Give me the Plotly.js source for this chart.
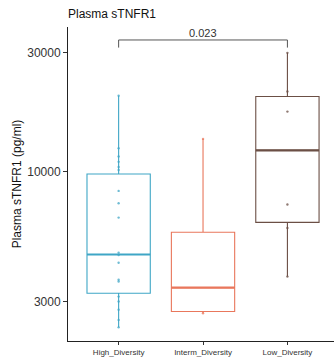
<!DOCTYPE html>
<html><head><meta charset="utf-8">
<script src="https://cdn.plot.ly/plotly-3.0.1.min.js"></script>
<style>html,body{margin:0;padding:0;overflow:hidden;background:#fff}#chart{width:334px;height:362px}</style>
</head><body><div id="chart"></div>
<script>
// ---- data ----
const categories = ['High_Diversity', 'Interm_Diversity', 'Low_Diversity'];
const colors = ['#3FA6C6', '#E9775C', '#6B4F45'];
const lowerWhisker = [2370, 2700, 3790];
const q1 = [3250, 2745, 6260];
const medians = [4650, 3420, 12180];
const q3 = [9790, 5715, 20030];
const upperWhisker = [20200, 13540, 30000];
const highPoints = [20200, 12430, 11500, 10950, 10450, 10160, 8370, 7470, 6540, 4730, 4630, 4310, 3680, 3620, 3150, 3010, 2790, 2540, 2370];
const intermPoints = [13540, 2700];
const lowPoints = [30000, 21000, 17430, 7380, 5940, 3790];
const pointSets = [highPoints, intermPoints, lowPoints];
const pLabel = '0.023';
const pPair = [0, 2];
const bracketY = 33800;
const bracketTipY = 31500;

const boxWidth = 0.75;
const traces = [];
categories.forEach((c, i) => {
  traces.push({
    type: 'box', x: [i + 1], q1: [q1[i]], median: [medians[i]], q3: [q3[i]],
    lowerfence: [lowerWhisker[i]], upperfence: [upperWhisker[i]],
    width: boxWidth, whiskerwidth: 0, boxpoints: false,
    line: {color: colors[i], width: 1.1}, fillcolor: 'rgba(255,255,255,0)',
    hoverinfo: 'skip', showlegend: false
  });
  traces.push({
    type: 'scatter', mode: 'lines',
    x: [i + 1 - boxWidth / 2, i + 1 + boxWidth / 2], y: [medians[i], medians[i]],
    line: {color: colors[i], width: 2.2}, showlegend: false, hoverinfo: 'skip'
  });
  traces.push({
    type: 'scatter', mode: 'markers',
    x: pointSets[i].map(() => i + 1), y: pointSets[i],
    marker: {color: colors[i], size: 2.4, opacity: 0.75}, showlegend: false, hoverinfo: 'skip'
  });
});
traces.push({
  type: 'scatter', mode: 'lines',
  x: [pPair[0] + 1, pPair[0] + 1, pPair[1] + 1, pPair[1] + 1],
  y: [bracketTipY, bracketY, bracketY, bracketTipY],
  line: {color: '#555555', width: 1}, showlegend: false, hoverinfo: 'skip'
});

const layout = {
  width: 334, height: 362,
  margin: {l: 68, r: 0, t: 27, b: 21},
  paper_bgcolor: '#fff', plot_bgcolor: '#fff',
  font: {family: 'Liberation Sans, Arial, sans-serif', color: '#222'},
  title: {text: 'Plasma sTNFR1', x: 68 / 334, xanchor: 'left', y: 1 - 14 / 362, yanchor: 'middle',
          font: {size: 12, color: '#111'}},
  xaxis: {
    range: [0.4, 3.552], tickvals: [1, 2, 3], ticktext: categories,
    showgrid: false, zeroline: false, showline: true, linecolor: '#222', linewidth: 1,
    ticks: 'outside', ticklen: 3, tickcolor: '#333', tickfont: {size: 8, color: '#333'}
  },
  yaxis: {
    type: 'log', range: [3.320, 4.581],
    tickvals: [3000, 10000, 30000], ticktext: ['3000', '10000', '30000'],
    showgrid: false, zeroline: false, showline: true, linecolor: '#222', linewidth: 1,
    ticks: 'outside', ticklen: 4, tickcolor: '#333', tickfont: {size: 12, color: '#333'},
    title: {text: 'Plasma sTNFR1 (pg/ml)', font: {size: 12, color: '#111'}, standoff: 3}
  },
  annotations: [{
    x: (pPair[0] + pPair[1]) / 2 + 1, y: Math.log10(bracketY), xref: 'x', yref: 'y',
    text: pLabel, showarrow: false, yanchor: 'bottom', yshift: -1,
    font: {size: 11, color: '#333'}
  }]
};
Plotly.newPlot('chart', traces, layout, {staticPlot: true, displayModeBar: false});
</script></body></html>
